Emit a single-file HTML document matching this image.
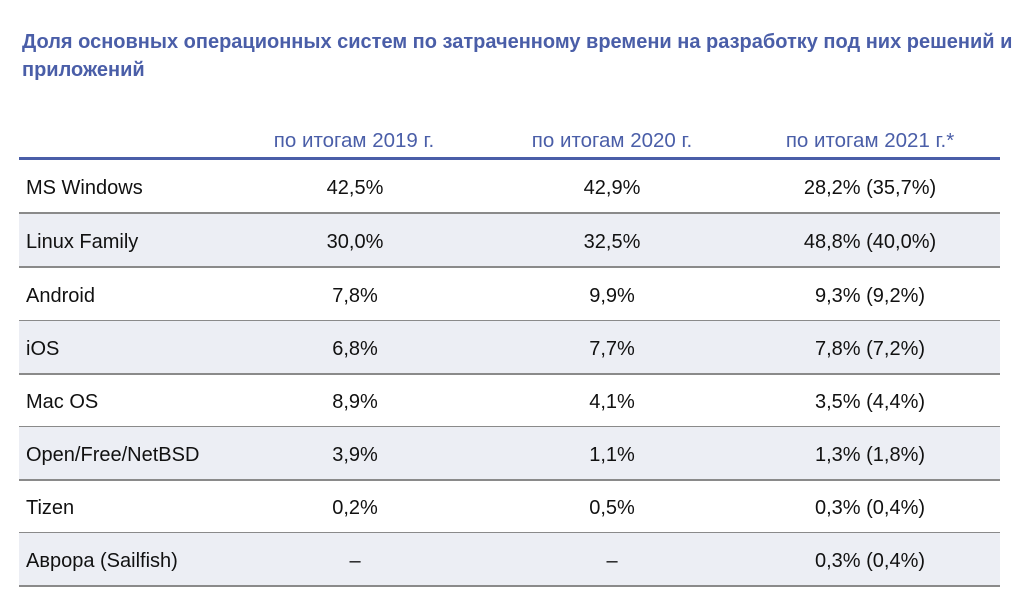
<!DOCTYPE html>
<html><head><meta charset="utf-8"><style>
body{margin:0;width:1024px;height:603px;background:#fff;font-family:"Liberation Sans","DejaVu Sans",sans-serif;position:relative;overflow:hidden}
.t{position:absolute;left:22px;top:28px;width:1010px;font-weight:bold;font-size:20px;line-height:28px;color:#4a5ea8;white-space:nowrap}
.h{position:absolute;top:129px;font-size:20.5px;color:#4a5ea8;transform:translateX(-50%);white-space:nowrap}
.hl{position:absolute;left:19px;width:981px;top:157px;height:3px;background:#4a5ea8}
.r{position:absolute;left:19px;width:981px;height:52px;border-bottom:2px solid #8a8a8a;font-size:20px;color:#111}
.r.s{background:#eceef4}
.r span{position:absolute;top:17px;white-space:nowrap}
.r .c{transform:translateX(-50%)}
</style></head><body>
<div class="t">Доля основных операционных систем по затраченному времени на разработку под них решений и<br>приложений</div>
<div class="h" style="left:354px">по итогам 2019 г.</div>
<div class="h" style="left:612px">по итогам 2020 г.</div>
<div class="h" style="left:870px">по итогам 2021 г.*</div>
<div class="hl"></div>
<div class="r" style="top:160px"><span style="left:7px">MS Windows</span><span class="c" style="left:336px">42,5%</span><span class="c" style="left:593px">42,9%</span><span class="c" style="left:851px">28,2% (35,7%)</span></div>
<div class="r s" style="top:214px"><span style="left:7px">Linux Family</span><span class="c" style="left:336px">30,0%</span><span class="c" style="left:593px">32,5%</span><span class="c" style="left:851px">48,8% (40,0%)</span></div>
<div class="r" style="top:268px"><span style="left:7px">Android</span><span class="c" style="left:336px">7,8%</span><span class="c" style="left:593px">9,9%</span><span class="c" style="left:851px">9,3% (9,2%)</span></div>
<div class="r s" style="top:321px"><span style="left:7px">iOS</span><span class="c" style="left:336px">6,8%</span><span class="c" style="left:593px">7,7%</span><span class="c" style="left:851px">7,8% (7,2%)</span></div>
<div class="r" style="top:374px"><span style="left:7px">Mac OS</span><span class="c" style="left:336px">8,9%</span><span class="c" style="left:593px">4,1%</span><span class="c" style="left:851px">3,5% (4,4%)</span></div>
<div class="r s" style="top:427px"><span style="left:7px">Open/Free/NetBSD</span><span class="c" style="left:336px">3,9%</span><span class="c" style="left:593px">1,1%</span><span class="c" style="left:851px">1,3% (1,8%)</span></div>
<div class="r" style="top:480px"><span style="left:7px">Tizen</span><span class="c" style="left:336px">0,2%</span><span class="c" style="left:593px">0,5%</span><span class="c" style="left:851px">0,3% (0,4%)</span></div>
<div class="r s" style="top:533px"><span style="left:7px">Аврора (Sailfish)</span><span class="c" style="left:336px">–</span><span class="c" style="left:593px">–</span><span class="c" style="left:851px">0,3% (0,4%)</span></div>
</body></html>
